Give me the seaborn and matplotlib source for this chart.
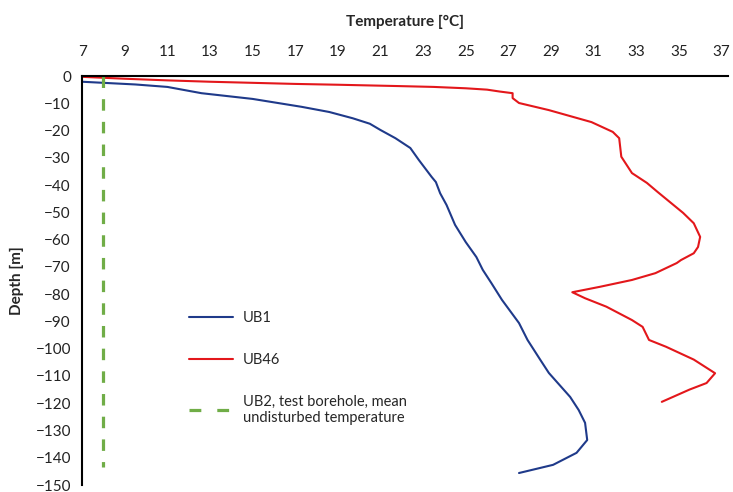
""" borehole temperature profiles: temperature against depth for UB1, UB46 and UB2 """

import matplotlib
matplotlib.use('Agg')
import matplotlib.pyplot as plt # matplotlib graphing capabilities
import seaborn as sns # seaborn graphing capabilities

# ~~~~~~~~~  Data  ~~~~ ~~~~~~ ~~~~~~~~~~~~ ~~~~~~~~~~ ~ #
ub1_temp = [7.0, 9.5, 11.0, 12.6, 15.0, 17.3, 18.6, 19.7, 20.5, 21.0, 21.7, 22.4,
            22.8, 23.4, 23.6, 23.8, 24.1, 24.5, 25.0, 25.5, 25.8, 26.2, 26.7,
            27.5, 27.9, 28.5, 28.9, 29.9, 30.3, 30.6, 30.7, 30.2, 29.1, 27.5]
ub1_depth = [-2.1, -3.1, -4.0, -6.3, -8.4, -11.3, -13.2, -15.5, -17.5, -19.8, -22.8, -26.4,
             -30.8, -37.0, -38.9, -43.0, -47.3, -54.6, -60.9, -66.4, -71.1, -75.9, -82.1,
             -90.6, -96.8, -104.1, -108.9, -117.7, -122.5, -127.2, -133.5, -138.2, -142.6, -145.6]

ub46_temp = [7.0, 9.0, 11.0, 13.0, 15.0, 17.0, 19.0, 21.9, 23.5, 25.0, 26.0, 26.6, 27.2, 27.2,
             27.5, 28.9, 30.9, 31.9, 32.2, 32.3, 32.8, 33.5, 34.0, 35.2, 35.7,
             36.0, 35.9, 35.7, 35.1, 34.9, 33.9, 32.8, 31.3, 30.0, 30.6, 31.6, 32.8,
             33.3, 33.6, 34.4, 35.7, 36.7, 36.3, 35.5, 34.2]
ub46_depth = [-0.3, -1.0, -1.6, -2.1, -2.5, -2.9, -3.2, -3.7, -4.0, -4.5, -5.0, -5.7, -6.3, -8.1,
              -9.9, -12.5, -16.9, -20.5, -22.8, -29.6, -35.6, -39.2, -42.5, -50.2, -54.0,
              -59.0, -62.7, -65.0, -67.5, -68.6, -72.3, -74.8, -77.3, -79.3, -81.5, -84.6, -89.5,
              -92.0, -96.8, -99.3, -104.0, -109.0, -112.6, -115.0, -119.5]

ub2_temp = [8.0, 8.0]
ub2_depth = [0.0, -143.5]

labels = ['UB1', 'UB46', 'UB2, test borehole, mean\nundisturbed temperature']

# ~~~~~~~~~  Program Execution     ~~ ~~~~ ~~~~~~ ~~~~~~~~~~~~ ~~~~~~~~~~ ~~~~ ~ #
sns.set_style('white') # style
plt.rcParams['font.family'] = ['Lato', 'DejaVu Sans']

fig = plt.figure(figsize=(7.33, 4.92), dpi=100)
axes = fig.add_axes([0.112, 0.0142, 0.881, 0.8313])

sns.lineplot(x=ub1_temp, y=ub1_depth, sort=False, estimator=None, color='#1f3a8a',
             linewidth=1.5, label=labels[0], ax=axes)
sns.lineplot(x=ub46_temp, y=ub46_depth, sort=False, estimator=None, color='#e3171b',
             linewidth=1.5, label=labels[1], ax=axes)
sns.lineplot(x=ub2_temp, y=ub2_depth, sort=False, estimator=None, color='#70ad47',
             linewidth=2.3, label=labels[2], ax=axes)
axes.lines[-1].set_linestyle((0, (3.6, 3.5))) # long green dashes

# axes: x on top, only the left and top spines
axes.set_xlim(7, 37.3)
axes.set_ylim(-150, 0)
axes.set_xticks(range(7, 38, 2))
axes.set_yticks(range(-150, 1, 10))
axes.xaxis.tick_top()
axes.xaxis.set_label_position('top')
axes.tick_params(length=0, labelsize=11, pad=8, colors='#222222')
axes.tick_params(axis='x', pad=12)
for side in ['right', 'bottom']:
    axes.spines[side].set_visible(False)
for side in ['left', 'top']:
    axes.spines[side].set_color('black')
    axes.spines[side].set_linewidth(1.5)
axes.set_xlabel('Temperature [°C]', fontsize=11, fontweight='bold', labelpad=14)
axes.set_ylabel('Depth [m]', fontsize=11, fontweight='bold', labelpad=8)

# legend inside the plot with wide gaps between entries
legend = axes.legend(loc='upper left', bbox_to_anchor=(0.145, 0.457), frameon=False,
                     fontsize=10.5, handlelength=3.0, labelspacing=1.9, handletextpad=0.7)
legend.get_lines()[-1].set_linestyle((0, (3.7, 5.0))) # two dashes in the legend key

fig.savefig('out.png', dpi=100)
